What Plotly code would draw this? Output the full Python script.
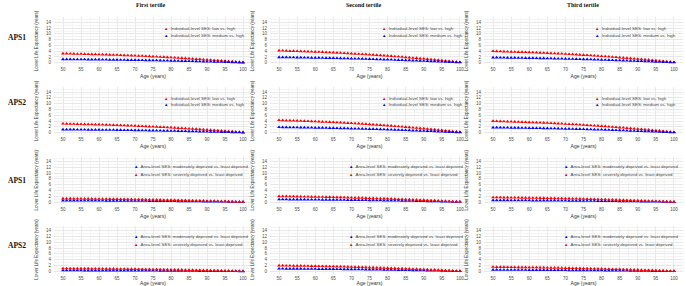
import plotly.graph_objects as go

ages = list(range(50, 101))

col_titles = ["First tertile", "Second tertile", "Third tertile"]
row_titles = ["APS1", "APS2", "APS1", "APS2"]

ind_names = ["Individual-level SES: low vs. high", "Individual-level SES: medium vs. high"]
area_names = ["Area-level SES: moderately deprived vs. least deprived", "Area-level SES: severely deprived vs. least deprived"]

# Row 1 (APS1, individual SES)
r1c1_low = [3.20,3.17,3.14,3.10,3.07,3.04,3.01,2.98,2.94,2.91,2.88,2.85,2.82,2.75,2.72,2.69,2.62,2.59,2.53,2.50,2.43,2.37,2.34,2.27,2.21,2.14,2.08,2.02,1.95,1.89,1.82,1.76,1.66,1.60,1.54,1.44,1.38,1.28,1.22,1.12,1.06,0.96,0.86,0.80,0.70,0.61,0.51,0.42,0.32,0.22,0.16]
r1c1_med = [1.20,1.19,1.18,1.16,1.15,1.14,1.13,1.12,1.10,1.09,1.08,1.07,1.06,1.03,1.02,1.01,0.98,0.97,0.95,0.94,0.91,0.89,0.88,0.85,0.83,0.80,0.78,0.76,0.73,0.71,0.68,0.66,0.62,0.60,0.58,0.54,0.52,0.48,0.46,0.42,0.40,0.36,0.32,0.30,0.26,0.23,0.19,0.16,0.12,0.08,0.06]
r1c2_low = [4.20,4.16,4.12,4.07,4.03,3.99,3.95,3.91,3.86,3.82,3.78,3.74,3.70,3.61,3.57,3.53,3.44,3.40,3.32,3.28,3.19,3.11,3.07,2.98,2.90,2.81,2.73,2.65,2.56,2.48,2.39,2.31,2.18,2.10,2.02,1.89,1.81,1.68,1.60,1.47,1.39,1.26,1.13,1.05,0.92,0.80,0.67,0.55,0.42,0.29,0.21]
r1c2_med = [1.90,1.88,1.86,1.84,1.82,1.81,1.79,1.77,1.75,1.73,1.71,1.69,1.67,1.63,1.62,1.60,1.56,1.54,1.50,1.48,1.44,1.41,1.39,1.35,1.31,1.27,1.24,1.20,1.16,1.12,1.08,1.05,0.99,0.95,0.91,0.86,0.82,0.76,0.72,0.67,0.63,0.57,0.51,0.48,0.42,0.36,0.30,0.25,0.19,0.13,0.10]
r1c3_low = [4.00,3.96,3.92,3.88,3.84,3.80,3.76,3.72,3.68,3.64,3.60,3.56,3.52,3.44,3.40,3.36,3.28,3.24,3.16,3.12,3.04,2.96,2.92,2.84,2.76,2.68,2.60,2.52,2.44,2.36,2.28,2.20,2.08,2.00,1.92,1.80,1.72,1.60,1.52,1.40,1.32,1.20,1.08,1.00,0.88,0.76,0.64,0.52,0.40,0.28,0.20]
r1c3_med = [1.80,1.78,1.76,1.75,1.73,1.71,1.69,1.67,1.66,1.64,1.62,1.60,1.58,1.55,1.53,1.51,1.48,1.46,1.42,1.40,1.37,1.33,1.31,1.28,1.24,1.21,1.17,1.13,1.10,1.06,1.03,0.99,0.94,0.90,0.86,0.81,0.77,0.72,0.68,0.63,0.59,0.54,0.49,0.45,0.40,0.34,0.29,0.23,0.18,0.13,0.09]

# Row 2 (APS2, individual SES)
r2c1_low = [3.10,3.07,3.04,3.01,2.98,2.95,2.91,2.88,2.85,2.82,2.79,2.76,2.73,2.67,2.64,2.60,2.54,2.51,2.45,2.42,2.36,2.29,2.26,2.20,2.14,2.08,2.02,1.95,1.89,1.83,1.77,1.71,1.61,1.55,1.49,1.40,1.33,1.24,1.18,1.09,1.02,0.93,0.84,0.78,0.68,0.59,0.50,0.40,0.31,0.22,0.16]
r2c1_med = [1.10,1.09,1.08,1.07,1.06,1.05,1.03,1.02,1.01,1.00,0.99,0.98,0.97,0.95,0.94,0.92,0.90,0.89,0.87,0.86,0.84,0.81,0.80,0.78,0.76,0.74,0.72,0.69,0.67,0.65,0.63,0.61,0.57,0.55,0.53,0.50,0.47,0.44,0.42,0.39,0.36,0.33,0.30,0.28,0.24,0.21,0.18,0.14,0.11,0.08,0.06]
r2c2_low = [4.30,4.26,4.21,4.17,4.13,4.09,4.04,4.00,3.96,3.91,3.87,3.83,3.78,3.70,3.66,3.61,3.53,3.48,3.40,3.35,3.27,3.18,3.14,3.05,2.97,2.88,2.80,2.71,2.62,2.54,2.45,2.37,2.24,2.15,2.06,1.94,1.85,1.72,1.63,1.51,1.42,1.29,1.16,1.08,0.95,0.82,0.69,0.56,0.43,0.30,0.22]
r2c2_med = [1.90,1.88,1.86,1.84,1.82,1.81,1.79,1.77,1.75,1.73,1.71,1.69,1.67,1.63,1.62,1.60,1.56,1.54,1.50,1.48,1.44,1.41,1.39,1.35,1.31,1.27,1.24,1.20,1.16,1.12,1.08,1.05,0.99,0.95,0.91,0.86,0.82,0.76,0.72,0.67,0.63,0.57,0.51,0.48,0.42,0.36,0.30,0.25,0.19,0.13,0.10]
r2c3_low = [4.00,3.96,3.92,3.88,3.84,3.80,3.76,3.72,3.68,3.64,3.60,3.56,3.52,3.44,3.40,3.36,3.28,3.24,3.16,3.12,3.04,2.96,2.92,2.84,2.76,2.68,2.60,2.52,2.44,2.36,2.28,2.20,2.08,2.00,1.92,1.80,1.72,1.60,1.52,1.40,1.32,1.20,1.08,1.00,0.88,0.76,0.64,0.52,0.40,0.28,0.20]
r2c3_med = [1.80,1.78,1.76,1.75,1.73,1.71,1.69,1.67,1.66,1.64,1.62,1.60,1.58,1.55,1.53,1.51,1.48,1.46,1.42,1.40,1.37,1.33,1.31,1.28,1.24,1.21,1.17,1.13,1.10,1.06,1.03,0.99,0.94,0.90,0.86,0.81,0.77,0.72,0.68,0.63,0.59,0.54,0.49,0.45,0.40,0.34,0.29,0.23,0.18,0.13,0.09]

# Row 3 (APS1, area-level SES)
r3c1_mod = [0.50,0.50,0.49,0.49,0.48,0.48,0.47,0.47,0.46,0.46,0.45,0.45,0.44,0.43,0.43,0.42,0.41,0.41,0.40,0.39,0.38,0.37,0.37,0.36,0.35,0.34,0.33,0.32,0.31,0.30,0.29,0.28,0.26,0.25,0.24,0.23,0.22,0.20,0.19,0.18,0.17,0.15,0.14,0.13,0.11,0.10,0.08,0.07,0.05,0.04,0.03]
r3c1_sev = [1.20,1.19,1.18,1.16,1.15,1.14,1.13,1.12,1.10,1.09,1.08,1.07,1.06,1.03,1.02,1.01,0.98,0.97,0.95,0.94,0.91,0.89,0.88,0.85,0.83,0.80,0.78,0.76,0.73,0.71,0.68,0.66,0.62,0.60,0.58,0.54,0.52,0.48,0.46,0.42,0.40,0.36,0.32,0.30,0.26,0.23,0.19,0.16,0.12,0.08,0.06]
r3c2_mod = [0.90,0.89,0.88,0.87,0.86,0.86,0.85,0.84,0.83,0.82,0.81,0.80,0.79,0.77,0.77,0.76,0.74,0.73,0.71,0.70,0.68,0.67,0.66,0.64,0.62,0.60,0.59,0.57,0.55,0.53,0.51,0.50,0.47,0.45,0.43,0.41,0.39,0.36,0.34,0.32,0.30,0.27,0.24,0.23,0.20,0.17,0.14,0.12,0.09,0.06,0.05]
r3c2_sev = [2.00,1.98,1.96,1.94,1.92,1.90,1.88,1.86,1.84,1.82,1.80,1.78,1.76,1.72,1.70,1.68,1.64,1.62,1.58,1.56,1.52,1.48,1.46,1.42,1.38,1.34,1.30,1.26,1.22,1.18,1.14,1.10,1.04,1.00,0.96,0.90,0.86,0.80,0.76,0.70,0.66,0.60,0.54,0.50,0.44,0.38,0.32,0.26,0.20,0.14,0.10]
r3c3_mod = [0.60,0.59,0.59,0.58,0.58,0.57,0.56,0.56,0.55,0.55,0.54,0.53,0.53,0.52,0.51,0.50,0.49,0.49,0.47,0.47,0.46,0.44,0.44,0.43,0.41,0.40,0.39,0.38,0.37,0.35,0.34,0.33,0.31,0.30,0.29,0.27,0.26,0.24,0.23,0.21,0.20,0.18,0.16,0.15,0.13,0.11,0.10,0.08,0.06,0.04,0.03]
r3c3_sev = [1.60,1.58,1.57,1.55,1.54,1.52,1.50,1.49,1.47,1.46,1.44,1.42,1.41,1.38,1.36,1.34,1.31,1.30,1.26,1.25,1.22,1.18,1.17,1.14,1.10,1.07,1.04,1.01,0.98,0.94,0.91,0.88,0.83,0.80,0.77,0.72,0.69,0.64,0.61,0.56,0.53,0.48,0.43,0.40,0.35,0.30,0.26,0.21,0.16,0.11,0.08]

# Row 4 (APS2, area-level SES)
r4c1_mod = [0.30,0.30,0.29,0.29,0.29,0.29,0.28,0.28,0.28,0.27,0.27,0.27,0.26,0.26,0.26,0.25,0.25,0.24,0.24,0.23,0.23,0.22,0.22,0.21,0.21,0.20,0.20,0.19,0.18,0.18,0.17,0.17,0.16,0.15,0.14,0.14,0.13,0.12,0.11,0.11,0.10,0.09,0.08,0.08,0.07,0.06,0.05,0.04,0.03,0.02,0.02]
r4c1_sev = [1.00,0.99,0.98,0.97,0.96,0.95,0.94,0.93,0.92,0.91,0.90,0.89,0.88,0.86,0.85,0.84,0.82,0.81,0.79,0.78,0.76,0.74,0.73,0.71,0.69,0.67,0.65,0.63,0.61,0.59,0.57,0.55,0.52,0.50,0.48,0.45,0.43,0.40,0.38,0.35,0.33,0.30,0.27,0.25,0.22,0.19,0.16,0.13,0.10,0.07,0.05]
r4c2_mod = [0.90,0.89,0.88,0.87,0.86,0.86,0.85,0.84,0.83,0.82,0.81,0.80,0.79,0.77,0.77,0.76,0.74,0.73,0.71,0.70,0.68,0.67,0.66,0.64,0.62,0.60,0.59,0.57,0.55,0.53,0.51,0.50,0.47,0.45,0.43,0.41,0.39,0.36,0.34,0.32,0.30,0.27,0.24,0.23,0.20,0.17,0.14,0.12,0.09,0.06,0.05]
r4c2_sev = [2.00,1.98,1.96,1.94,1.92,1.90,1.88,1.86,1.84,1.82,1.80,1.78,1.76,1.72,1.70,1.68,1.64,1.62,1.58,1.56,1.52,1.48,1.46,1.42,1.38,1.34,1.30,1.26,1.22,1.18,1.14,1.10,1.04,1.00,0.96,0.90,0.86,0.80,0.76,0.70,0.66,0.60,0.54,0.50,0.44,0.38,0.32,0.26,0.20,0.14,0.10]
r4c3_mod = [0.50,0.50,0.49,0.49,0.48,0.48,0.47,0.47,0.46,0.46,0.45,0.45,0.44,0.43,0.43,0.42,0.41,0.41,0.40,0.39,0.38,0.37,0.37,0.36,0.35,0.34,0.33,0.32,0.31,0.30,0.29,0.28,0.26,0.25,0.24,0.23,0.22,0.20,0.19,0.18,0.17,0.15,0.14,0.13,0.11,0.10,0.08,0.07,0.05,0.04,0.03]
r4c3_sev = [1.50,1.49,1.47,1.46,1.44,1.43,1.41,1.40,1.38,1.37,1.35,1.34,1.32,1.29,1.28,1.26,1.23,1.22,1.19,1.17,1.14,1.11,1.10,1.07,1.04,1.01,0.98,0.95,0.92,0.89,0.86,0.83,0.78,0.75,0.72,0.68,0.65,0.60,0.57,0.53,0.50,0.45,0.41,0.38,0.33,0.29,0.24,0.20,0.15,0.11,0.08]

RED = "#FF0000"
BLUE = "#0000FF"

panels = [
    [[(r1c1_low, RED), (r1c1_med, BLUE)], [(r1c2_low, RED), (r1c2_med, BLUE)], [(r1c3_low, RED), (r1c3_med, BLUE)]],
    [[(r2c1_low, RED), (r2c1_med, BLUE)], [(r2c2_low, RED), (r2c2_med, BLUE)], [(r2c3_low, RED), (r2c3_med, BLUE)]],
    [[(r3c1_mod, BLUE), (r3c1_sev, RED)], [(r3c2_mod, BLUE), (r3c2_sev, RED)], [(r3c3_mod, BLUE), (r3c3_sev, RED)]],
    [[(r4c1_mod, BLUE), (r4c1_sev, RED)], [(r4c2_mod, BLUE), (r4c2_sev, RED)], [(r4c3_mod, BLUE), (r4c3_sev, RED)]],
]
legend_names = [ind_names, ind_names, area_names, area_names]

W, H = 685, 286
# pixel layout
col_x = [(54, 252), (270, 469), (484, 683)]
row_y = [(17.3, 64.9), (87.0, 134.9), (156.5, 204.2), (225.6, 273.5)]
leg_x = [[162, 380, 593], [162, 380, 593], [132, 347, 562], [132, 347, 562]]
leg_y = [[28, 35], [98, 105], [166, 174], [236, 244]]
row_lab_y = [37, 102, 180, 245]
col_lab_x = [150, 363, 583]

fig = go.Figure()
layout = dict(
    width=W, height=H, margin=dict(l=0, r=0, t=0, b=0, autoexpand=False),
    paper_bgcolor="white", plot_bgcolor="white", showlegend=False,
    font=dict(family="Liberation Sans, Arial", color="#4d4d4d", size=5),
)
annotations = []

tick_font = dict(size=4.5, color="#4d4d4d", family="Liberation Sans, Arial")
for r in range(4):
    for c in range(3):
        k = r * 3 + c + 1
        xa = "x" if k == 1 else f"x{k}"
        ya = "y" if k == 1 else f"y{k}"
        for (vals, color) in panels[r][c]:
            fig.add_trace(go.Scatter(
                x=ages, y=vals, mode="markers", xaxis=xa, yaxis=ya,
                marker=dict(symbol="triangle-up", size=3.5, color=color),
                showlegend=False,
            ))
        x0, x1 = col_x[c]
        y0, y1 = row_y[r]
        layout["xaxis" if k == 1 else f"xaxis{k}"] = dict(
            domain=[x0 / W, x1 / W], anchor=ya, range=[47.5, 102.5], automargin=False,
            tickmode="linear", tick0=50, dtick=5, showline=False, zeroline=False,
            gridcolor="#e8e8e8", gridwidth=0.6, ticks="", ticklabelstandoff=1,
            ticklabeloverflow="allow",
            minor=dict(showgrid=True, gridcolor="#f4f4f4", gridwidth=0.4, dtick=2.5, tick0=47.5),
            tickfont=tick_font,
            title=dict(text="Age (years)", font=dict(size=5, color="#333333"), standoff=3),
        )
        layout["yaxis" if k == 1 else f"yaxis{k}"] = dict(
            domain=[1 - y1 / H, 1 - y0 / H], anchor=xa, range=[-0.75, 15.75], automargin=False,
            tickmode="linear", tick0=0, dtick=2, showline=False, zeroline=False,
            gridcolor="#e8e8e8", gridwidth=0.6, ticks="", ticklabelstandoff=2,
            ticklabeloverflow="allow",
            minor=dict(showgrid=True, gridcolor="#f4f4f4", gridwidth=0.4, dtick=1),
            tickfont=tick_font,
            title=dict(text="Lower Life Expectancy (years)", font=dict(size=4.5, color="#333333"), standoff=7),
        )
        # legend-like labels
        for i, (vals, color) in enumerate(panels[r][c]):
            annotations.append(dict(
                xref="paper", yref="paper", x=leg_x[r][c] / W, y=1 - leg_y[r][i] / H,
                xanchor="left", yanchor="middle", showarrow=False,
                text=f'<span style="color:{color}">▲</span>  {legend_names[r][i]}',
                font=dict(size=4.4, color="#444444", family="Liberation Sans, Arial"),
            ))

for c in range(3):
    annotations.append(dict(
        xref="paper", yref="paper", x=col_lab_x[c] / W, y=1 - 5 / H,
        xanchor="center", yanchor="middle", showarrow=False,
        text=f"<b>{col_titles[c]}</b>",
        font=dict(size=6, color="#111111", family="Liberation Serif, Times New Roman"),
    ))
for r in range(4):
    annotations.append(dict(
        xref="paper", yref="paper", x=17 / W, y=1 - row_lab_y[r] / H,
        xanchor="center", yanchor="middle", showarrow=False,
        text=f"<b>{row_titles[r]}</b>",
        font=dict(size=7.5, color="#111111", family="Liberation Serif, Times New Roman"),
    ))

layout["annotations"] = annotations
fig.update_layout(**layout)
fig.write_html(
    "out.html",
    config={"displayModeBar": False},
    post_script="document.body.style.margin='0';document.body.style.padding='0';document.body.style.overflow='hidden';",
)
